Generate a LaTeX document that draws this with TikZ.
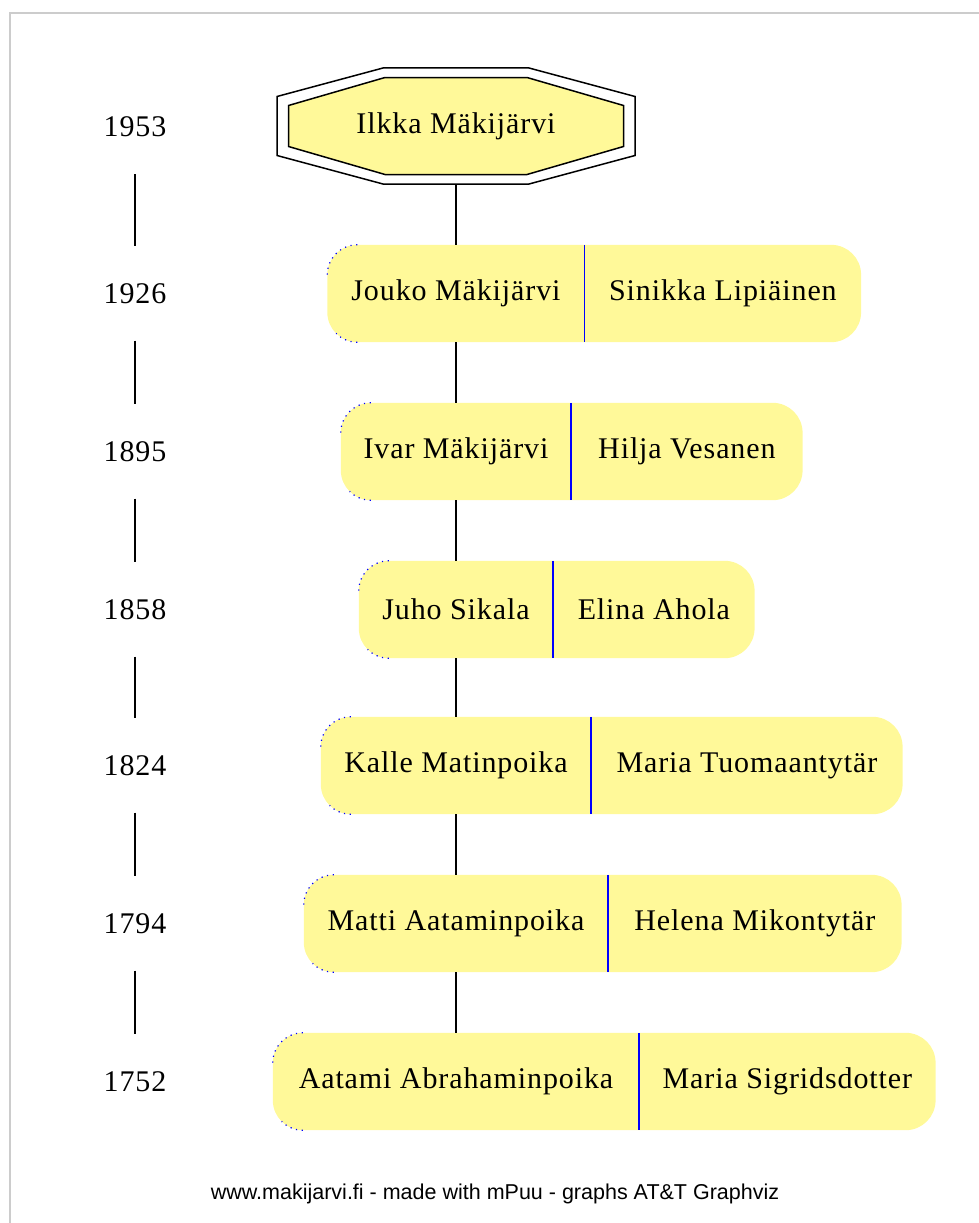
\documentclass[tikz,border=0pt]{standalone}
\usepackage{fontspec}
\setmainfont{Liberation Serif}[LetterSpace=3]
\newfontfamily\footfont{Liberation Sans}
\usetikzlibrary{backgrounds}
\definecolor{recfill}{RGB}{255,249,153}
\tikzset{
  year/.style={minimum height=94pt, inner sep=0pt, font=\fontsize{30}{36}\selectfont},
  cell/.style={minimum height=97pt, inner sep=0pt, font=\fontsize{30}{36}\selectfont},
  recbox/.style={fill=recfill, rounded corners=30pt},
  divider/.style={blue, line width=1.5pt},
  cornerdots/.style={blue, line width=1.2pt, dash pattern=on 1.2pt off 4.5pt},
  link/.style={black, line width=1.5pt}
}
\begin{document}
\begin{tikzpicture}[x=1pt,y=1pt]
  \useasboundingbox (0,0) rectangle (979,-1223);
  \draw[black!20, line width=2pt] (9.5,-1223) -- (9.5,-13.5) -- (979,-13.5);

  % years on the left
  \node[year] (y1953) at (135,-127) {1953};
  \node[year] (y1926) at (135,-293.5) {1926};
  \node[year] (y1895) at (135,-451.5) {1895};
  \node[year] (y1858) at (135,-609.5) {1858};
  \node[year] (y1824) at (135,-765.5) {1824};
  \node[year] (y1794) at (135,-923.5) {1794};
  \node[year] (y1752) at (135,-1081.5) {1752};
  \draw[link] (y1953) -- (y1926);
  \draw[link] (y1926) -- (y1895);
  \draw[link] (y1895) -- (y1858);
  \draw[link] (y1858) -- (y1824);
  \draw[link] (y1824) -- (y1794);
  \draw[link] (y1794) -- (y1752);

  % root person
  \node[minimum width=358pt, minimum height=116pt, inner sep=0pt, font=\fontsize{30}{36}\selectfont] (ilkka) at (456,-126) {Ilkka Mäkijärvi};

  % couples, husband cell centred on the line
  \node[cell, minimum width=257pt] (jouko) at (456,-293.5) {Jouko Mäkijärvi};
  \node[cell, minimum width=276pt, anchor=west] (sinikka) at (jouko.east) {Sinikka Lipiäinen};
  \node[cell, minimum width=230pt] (ivar) at (456,-451.5) {Ivar Mäkijärvi};
  \node[cell, minimum width=231pt, anchor=west] (hilja) at (ivar.east) {Hilja Vesanen};
  \node[cell, minimum width=194pt] (juho) at (456,-609.5) {Juho Sikala};
  \node[cell, minimum width=201pt, anchor=west] (elina) at (juho.east) {Elina Ahola};
  \node[cell, minimum width=270pt] (kalle) at (456,-765.5) {Kalle Matinpoika};
  \node[cell, minimum width=311pt, anchor=west] (mariat) at (kalle.east) {Maria Tuomaantytär};
  \node[cell, minimum width=304pt] (matti) at (456,-923.5) {Matti Aataminpoika};
  \node[cell, minimum width=293pt, anchor=west] (helena) at (matti.east) {Helena Mikontytär};
  \node[cell, minimum width=366pt] (aatami) at (456,-1081.5) {Aatami Abrahaminpoika};
  \node[cell, minimum width=296pt, anchor=west] (marias) at (aatami.east) {Maria Sigridsdotter};

  \begin{scope}[on background layer]
    \draw[line width=1.5pt, shift={(ilkka.center)}] (-73,58) -- (73,58) -- (179,29.5) -- (179,-29.5) -- (73,-58) -- (-73,-58) -- (-179,-29.5) -- (-179,29.5) -- cycle;
    \draw[line width=1.5pt, fill=recfill, shift={(ilkka.center)}] (-71,48.5) -- (71,48.5) -- (167.5,20.5) -- (167.5,-20.5) -- (71,-48.5) -- (-71,-48.5) -- (-167.5,-20.5) -- (-167.5,20.5) -- cycle;
    \fill[recbox] (jouko.north west) rectangle (sinikka.south east);
    \fill[recbox] (ivar.north west) rectangle (hilja.south east);
    \fill[recbox] (juho.north west) rectangle (elina.south east);
    \fill[recbox] (kalle.north west) rectangle (mariat.south east);
    \fill[recbox] (matti.north west) rectangle (helena.south east);
    \fill[recbox] (aatami.north west) rectangle (marias.south east);
  \end{scope}

  \draw[divider] (jouko.north east) -- (jouko.south east);
  \draw[divider] (ivar.north east) -- (ivar.south east);
  \draw[divider] (juho.north east) -- (juho.south east);
  \draw[divider] (kalle.north east) -- (kalle.south east);
  \draw[divider] (matti.north east) -- (matti.south east);
  \draw[divider] (aatami.north east) -- (aatami.south east);

  % stray blue dots at the corners
  \draw[cornerdots] ([xshift=30pt]jouko.north west) arc[start angle=90, end angle=180, radius=30pt] ([xshift=30pt]jouko.south west) arc[start angle=270, end angle=225, radius=30pt];
  \draw[cornerdots] ([xshift=30pt]ivar.north west) arc[start angle=90, end angle=180, radius=30pt] ([xshift=30pt]ivar.south west) arc[start angle=270, end angle=225, radius=30pt];
  \draw[cornerdots] ([xshift=30pt]juho.north west) arc[start angle=90, end angle=180, radius=30pt] ([xshift=30pt]juho.south west) arc[start angle=270, end angle=225, radius=30pt];
  \draw[cornerdots] ([xshift=30pt]kalle.north west) arc[start angle=90, end angle=180, radius=30pt] ([xshift=30pt]kalle.south west) arc[start angle=270, end angle=225, radius=30pt];
  \draw[cornerdots] ([xshift=30pt]matti.north west) arc[start angle=90, end angle=180, radius=30pt] ([xshift=30pt]matti.south west) arc[start angle=270, end angle=225, radius=30pt];
  \draw[cornerdots] ([xshift=30pt]aatami.north west) arc[start angle=90, end angle=180, radius=30pt] ([xshift=30pt]aatami.south west) arc[start angle=270, end angle=225, radius=30pt];

  % line of descent
  \draw[link] (ilkka) -- (jouko);
  \draw[link] (jouko) -- (ivar);
  \draw[link] (ivar) -- (juho);
  \draw[link] (juho) -- (kalle);
  \draw[link] (kalle) -- (matti);
  \draw[link] (matti) -- (aatami);

  \node[font=\footfont\fontsize{21.5}{26}\selectfont] (credit) at (495,-1194) {www.makijarvi.fi - made with mPuu - graphs AT\&T Graphviz};
\end{tikzpicture}
\end{document}
